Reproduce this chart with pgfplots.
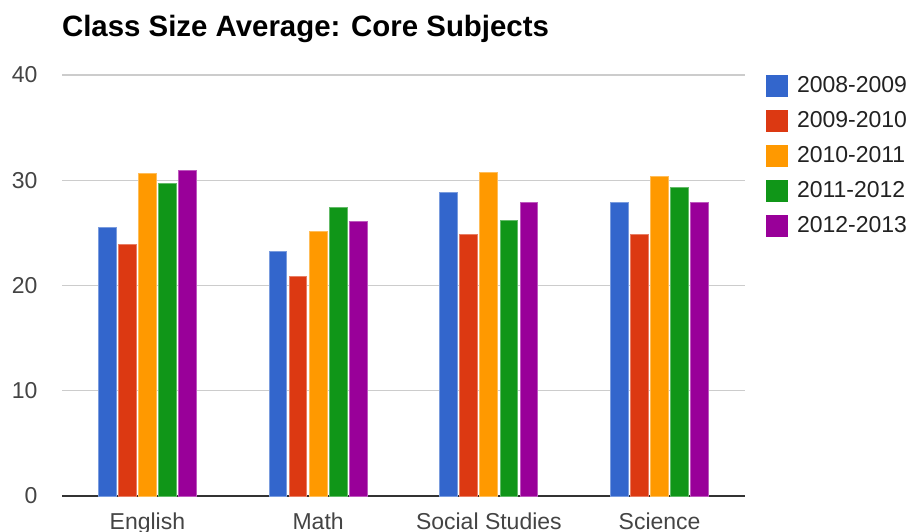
\documentclass[border=0pt]{standalone}
\usepackage{pgfplots}
\usepackage{pgfplotstable}
\pgfplotsset{compat=1.18}
\usepackage{fontspec}
\setmainfont{Liberation Sans}

\definecolor{sBlue}{HTML}{3366CC}
\definecolor{sRed}{HTML}{DC3912}
\definecolor{sOrange}{HTML}{FF9900}
\definecolor{sGreen}{HTML}{109618}
\definecolor{sPurple}{HTML}{990099}
\definecolor{tickgray}{HTML}{444444}
\definecolor{legendgray}{HTML}{222222}
\definecolor{gridgray}{HTML}{CCCCCC}
\definecolor{basegray}{HTML}{333333}

% Average class size per subject and school year
\pgfplotstableread{
x  y0809 y0910 y1011 y1112 y1213
0  25.5  23.9  30.6  29.7  30.9
1  23.2  20.9  25.1  27.4  26.1
2  28.8  24.8  30.7  26.2  27.9
3  27.9  24.8  30.4  29.3  27.9
}\classdata

\begin{document}
\begin{tikzpicture}
\begin{axis}[
  scale only axis,
  width=341.5pt, height=210.5pt,
  ybar=1.15pt, bar width=8.9pt,
  xmin=-0.5, xmax=3.5,
  ymin=0, ymax=40,
  ytick={0,10,20,30,40},
  xtick=data,
  xticklabels={English,Math,Social Studies,Science},
  major tick length=0pt,
  axis x line=bottom, axis y line=left,
  axis line style={-},
  x axis line style={basegray, line width=0.6pt},
  y axis line style={draw=none},
  ymajorgrids,
  grid style={gridgray, line width=0.6pt},
  /pgf/number format/assume math mode=true,
  tick label style={font=\fontsize{11.5}{13}\selectfont, text=tickgray},
  yticklabel style={xshift=-8.7pt},
  xticklabel style={yshift=-4.7pt},
  title={Class Size Average: Core Subjects},
  title style={at={(0,1)}, anchor=base west, yshift=13.5pt, xshift=-3.5pt,
    font=\bfseries\fontsize{14.7}{17}\selectfont, text=black},
  legend style={at={(1,1)}, anchor=north west, xshift=10.5pt,
    draw=none, fill=none, inner sep=0pt, outer sep=0pt,
    row sep=6.5pt, column sep=4.5pt,
    font=\fontsize{11.5}{13}\selectfont, text=legendgray,
    nodes={inner sep=0pt}},
  legend cell align=left,
  legend image code/.code={\fill[#1,draw=none] (0pt,-5.5pt) rectangle (11pt,5.5pt);},
  every axis plot/.append style={line width=0.5pt},
]
\addplot[fill=sBlue, draw=sBlue!65!white] table[x=x, y=y0809] {\classdata};
\addplot[fill=sRed, draw=sRed!65!white] table[x=x, y=y0910] {\classdata};
\addplot[fill=sOrange, draw=sOrange!65!white] table[x=x, y=y1011] {\classdata};
\addplot[fill=sGreen, draw=sGreen!65!white] table[x=x, y=y1112] {\classdata};
\addplot[fill=sPurple, draw=sPurple!65!white] table[x=x, y=y1213] {\classdata};
\legend{2008-2009,2009-2010,2010-2011,2011-2012,2012-2013}
\end{axis}
\pgfresetboundingbox
\path ([xshift=-31pt,yshift=-17.5pt]current axis.south west)
  rectangle ([xshift=83.5pt,yshift=37.5pt]current axis.north east);
\end{tikzpicture}
\end{document}
